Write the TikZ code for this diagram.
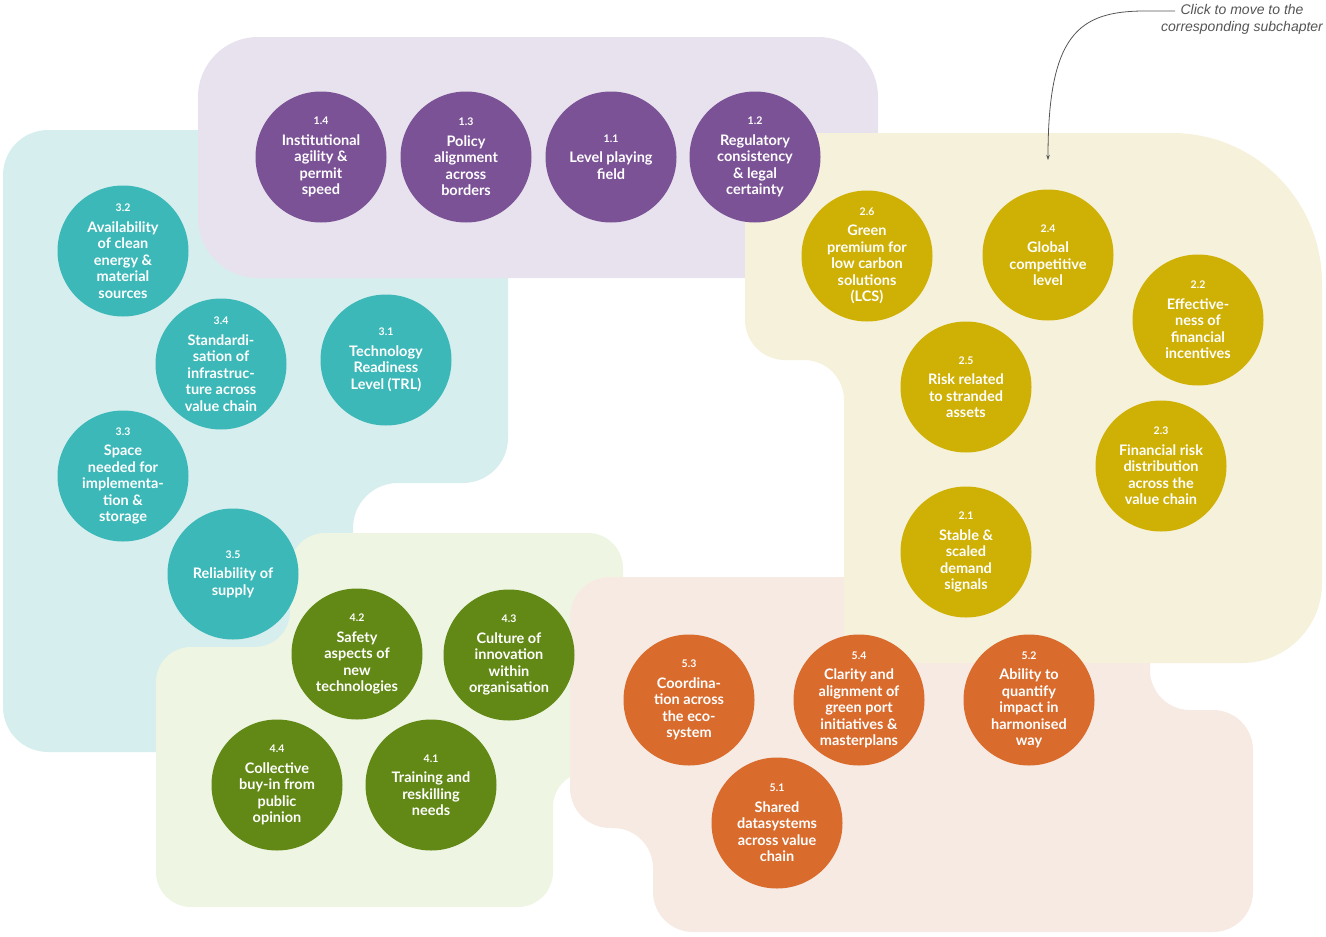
\documentclass[tikz,border=0pt]{standalone}
\usepackage{fontspec}
\newfontfamily\topicfont{Lato}
\newfontfamily\notefont{Liberation Sans}
\usetikzlibrary{arrows.meta}

\definecolor{polcol}{RGB}{124,82,150}
\definecolor{polbg}{RGB}{231,226,237}
\definecolor{techcol}{RGB}{60,184,184}
\definecolor{techbg}{RGB}{215,238,238}
\definecolor{orgcol}{RGB}{98,137,22}
\definecolor{orgbg}{RGB}{238,246,227}
\definecolor{fincol}{RGB}{207,176,4}
\definecolor{finbg}{RGB}{246,241,218}
\definecolor{coopcol}{RGB}{217,107,45}
\definecolor{coopbg}{RGB}{246,234,227}
\definecolor{notegray}{RGB}{85,85,85}

\newcommand{\topicnum}[1]{{\fontsize{10.5}{12}\selectfont #1}\\[4pt]}

\begin{document}
\begin{tikzpicture}[x=1pt, y=-1pt,
    topic/.style={circle, minimum size=131pt, inner sep=-12pt, text=white,
      align=center, font=\topicfont\fontsize{14.5}{16.5}\selectfont\bfseries},
    note/.style={align=center, inner sep=0pt, text=notegray,
      font=\notefont\itshape\fontsize{14}{17}\selectfont}]
                \useasboundingbox (0,0) rectangle (1326,937);
                \clip (0,0) rectangle (1326,937);

                % Draw the background areas
                \fill[techbg, rounded corners=45pt] (3,130) -- (508,130) -- (508,483)
                  -- (353,483) -- (353,752) -- (3,752) -- cycle;
                \fill[orgbg, rounded corners=35pt] (290,533) -- (623,533) -- (623,772)
                  -- (553,772) -- (553,907) -- (156,907) -- (156,647) -- (290,647) -- cycle;
                \fill[polbg, rounded corners=60pt] (198,37) rectangle (878,278);
                \fill[coopbg, rounded corners=40pt] (570,577) -- (1150,577) -- (1150,710)
                  -- (1253,710) -- (1253,932) -- (653,932) -- (653,828) -- (570,828) -- cycle;
                \fill[finbg] (745,133) -- (1172,133) arc[start angle=-90, end angle=0, radius=150]
                  -- (1322,583) arc[start angle=0, end angle=90, radius=80]
                  -- (844,663) -- (844,400) arc[start angle=0, end angle=-90, radius=40]
                  -- (785,360) arc[start angle=90, end angle=180, radius=40] -- cycle;

                % Draw the policy topics
                \node[topic, fill=polcol] (p14) at (321,157) {\topicnum{1.4}Institutional\\agility \&\\permit\\speed};
                \node[topic, fill=polcol] (p13) at (466,157) {\topicnum{1.3}Policy\\alignment\\across\\borders};
                \node[topic, fill=polcol] (p11) at (611,157) {\topicnum{1.1}Level playing\\field};
                \node[topic, fill=polcol] (p12) at (755,157) {\topicnum{1.2}Regulatory\\consistency\\\& legal\\certainty};

                % Draw the technology topics
                \node[topic, fill=techcol] (t32) at (123,251) {\topicnum{3.2}Availability\\of clean\\energy \&\\material\\sources};
                \node[topic, fill=techcol] (t34) at (221,364) {\topicnum{3.4}Standardi-\\sation of\\infrastruc-\\ture across\\value chain};
                \node[topic, fill=techcol] (t31) at (386,360) {\topicnum{3.1}Technology\\Readiness\\Level (TRL)};
                \node[topic, fill=techcol] (t33) at (123,476) {\topicnum{3.3}Space\\needed for\\implementa-\\tion \&\\storage};
                \node[topic, fill=techcol] (t35) at (233,574) {\topicnum{3.5}Reliability of\\supply};

                % Draw the organisation topics
                \node[topic, fill=orgcol] (o42) at (357,654) {\topicnum{4.2}Safety\\aspects of\\new\\technologies};
                \node[topic, fill=orgcol] (o43) at (509,655) {\topicnum{4.3}Culture of\\innovation\\within\\organisation};
                \node[topic, fill=orgcol] (o44) at (277,785) {\topicnum{4.4}Collective\\buy-in from\\public\\opinion};
                \node[topic, fill=orgcol] (o41) at (431,785) {\topicnum{4.1}Training and\\reskilling\\needs};

                % Draw the financial topics
                \node[topic, fill=fincol] (f26) at (867,256) {\topicnum{2.6}Green\\premium for\\low carbon\\solutions\\(LCS)};
                \node[topic, fill=fincol] (f24) at (1048,255) {\topicnum{2.4}Global\\competitive\\level};
                \node[topic, fill=fincol] (f22) at (1198,320) {\topicnum{2.2}Effective-\\ness of\\financial\\incentives};
                \node[topic, fill=fincol] (f25) at (966,387) {\topicnum{2.5}Risk related\\to stranded\\assets};
                \node[topic, fill=fincol] (f23) at (1161,466) {\topicnum{2.3}Financial risk\\distribution\\across the\\value chain};
                \node[topic, fill=fincol] (f21) at (966,552) {\topicnum{2.1}Stable \&\\scaled\\demand\\signals};

                % Draw the cooperation topics
                \node[topic, fill=coopcol] (c53) at (689,700) {\topicnum{5.3}Coordina-\\tion across\\the eco-\\system};
                \node[topic, fill=coopcol] (c54) at (859,700) {\topicnum{5.4}Clarity and\\alignment of\\green port\\initiatives \&\\masterplans};
                \node[topic, fill=coopcol] (c52) at (1029,700) {\topicnum{5.2}Ability to\\quantify\\impact in\\harmonised\\way};
                \node[topic, fill=coopcol] (c51) at (777,823) {\topicnum{5.1}Shared\\datasystems\\across value\\chain};

                % Draw the hint
                \node[note] (note) at (1242,19) {Click to move to the\\corresponding subchapter};
                \coordinate (notestart) at (1175,11);
                \coordinate (arrowtip) at (1048,160);
                \draw[notegray, line width=0.8pt, -{Stealth[length=5pt, width=3.5pt]}]
                  (notestart) -- (1145,11) .. controls (1078,11) and (1048,35) .. (arrowtip);
              \end{tikzpicture}
\end{document}
